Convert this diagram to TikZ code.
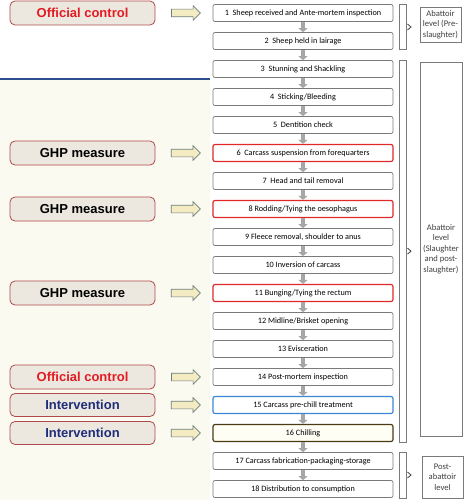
\documentclass[tikz,border=0pt]{standalone}
\usepackage{xcolor}
\usepackage{fontspec}
\setmainfont{Carlito}
\newfontfamily\labfont{Liberation Sans}
\usepackage{tikz}
\usetikzlibrary{shapes.arrows, arrows.meta, positioning, calc}

\definecolor{creambg}{HTML}{FAFAF0}
\definecolor{sepblue}{HTML}{2E4D8C}
\definecolor{labfill}{HTML}{EDE8DF}
\definecolor{labborder}{HTML}{B04A4A}
\definecolor{ocred}{HTML}{E31B23}
\definecolor{ivnavy}{HTML}{1F2D7A}
\definecolor{stepgray}{HTML}{7A7A7A}
\definecolor{hlred}{HTML}{E02828}
\definecolor{hlblue}{HTML}{3C86D6}
\definecolor{hlbrown}{HTML}{4A3B12}
\definecolor{arrowgray}{HTML}{A6A6A6}
\definecolor{yarrowfill}{HTML}{F3EBC2}
\definecolor{yarrowline}{HTML}{6E7F7F}
\definecolor{leveltext}{HTML}{404040}

\begin{document}
\begin{tikzpicture}[x=1pt, y=-1pt,
    every node/.style={font=\fontsize{8.2}{9.5}\selectfont, inner sep=0pt},
    stepbox/.style={draw=stepgray, fill=white, rounded corners=2pt, line width=0.7pt,
        minimum width=180pt, minimum height=17pt},
    ghpstep/.style={stepbox, draw=hlred, line width=1.2pt},
    prechill/.style={stepbox, draw=hlblue, line width=1.2pt},
    chillstep/.style={stepbox, draw=hlbrown, fill=white!96!yellow, line width=1.2pt},
    labbox/.style={draw=labborder, fill=labfill, rounded corners=5pt, line width=0.8pt,
        minimum width=145pt, minimum height=24pt, font=\labfont\bfseries\fontsize{13}{15}\selectfont},
    flowarrow/.style={draw=arrowgray, line width=4.5pt, -{Triangle[length=4pt, width=9pt]}},
    yarrow/.style={single arrow, draw=yarrowline, fill=yarrowfill, line width=0.7pt,
        inner xsep=0pt, inner ysep=3.5pt, minimum height=29pt, minimum width=14pt,
        single arrow head extend=3.5pt},
    bracebar/.style={draw=stepgray, fill=white, line width=0.7pt},
    levelbox/.style={draw=stepgray, fill=white, line width=0.7pt, text=leveltext,
        align=center, font=\fontsize{8.6}{10.5}\selectfont}]

    \useasboundingbox (0,0) rectangle (466,500);

    % Background of the slaughter part
    \fill[creambg] (0,80) rectangle (210,500);
    \draw[sepblue, line width=1.2pt] (0,79) -- (210,79);

    % Process steps (top to bottom)
    \foreach \i/\txt/\sty in {
        1/{1~ Sheep received and Ante-mortem inspection}/stepbox,
        2/{2~ Sheep held in lairage}/stepbox,
        3/{3~ Stunning and Shackling}/stepbox,
        4/{4~ Sticking/Bleeding}/stepbox,
        5/{5~ Dentition check}/stepbox,
        6/{6~ Carcass suspension from forequarters}/ghpstep,
        7/{7~ Head and tail removal}/stepbox,
        8/{8 Rodding/Tying the oesophagus}/ghpstep,
        9/{9 Fleece removal, shoulder to anus}/stepbox,
        10/{10 Inversion of carcass}/stepbox,
        11/{11 Bunging/Tying the rectum}/ghpstep,
        12/{12 Midline/Brisket opening}/stepbox,
        13/{13 Evisceration}/stepbox,
        14/{14 Post-mortem inspection}/stepbox,
        15/{15 Carcass pre-chill treatment}/prechill,
        16/{16 Chilling}/chillstep,
        17/{17 Carcass fabrication-packaging-storage}/stepbox,
        18/{18 Distribution to consumption}/stepbox} {
        \node[\sty] (s\i) at (303, {13+28*(\i-1)}) {\txt};
    }

    % Gray arrows between steps
    \foreach \i [evaluate=\i as \j using int(\i+1)] in {1,...,17} {
        \draw[flowarrow] (s\i.south) -- (s\j.north);
    }

    % Control / measure labels on the left
    \node[labbox, text=ocred] (oc1) at (82.5,0 |- s1) {Official control};
    \node[labbox] (ghp1) at (82.5,0 |- s6) {GHP measure};
    \node[labbox] (ghp2) at (82.5,0 |- s8) {GHP measure};
    \node[labbox] (ghp3) at (82.5,0 |- s11) {GHP measure};
    \node[labbox, text=ocred] (oc2) at (82.5,0 |- s14) {Official control};
    \node[labbox, text=ivnavy, minimum height=23pt] (iv1) at (82.5,0 |- s15) {Intervention};
    \node[labbox, text=ivnavy, minimum height=23pt] (iv2) at (82.5,0 |- s16) {Intervention};

    % Block arrows from labels to steps
    \foreach \l/\s in {oc1/s1, ghp1/s6, ghp2/s8, ghp3/s11, oc2/s14, iv1/s15, iv2/s16} {
        \path (\l.east) -- (\s.west) node[yarrow, midway] {};
    }

    % Brackets grouping the steps
    \foreach \a/\b/\n in {1/2/1, 3/16/2, 17/18/3} {
        \draw[bracebar] (399,0 |- s\a.north) rectangle (406,0 |- s\b.south);
        \coordinate (m\n) at ($(406,0 |- s\a.north)!0.5!(406,0 |- s\b.south)$);
        \draw[leveltext, line width=0.8pt] ([shift={(1.5,-3)}]m\n) -- ([shift={(5,0)}]m\n) -- ([shift={(1.5,3)}]m\n);
    }

    % Level boxes on the right
    \node[levelbox, minimum width=41pt, minimum height=35pt] (lv1) at (440.5,24.5) {Abattoir\\level (Pre-\\slaughter)};
    \node[levelbox, minimum width=42pt, minimum height=374pt] (lv2) at (441,249) {Abattoir\\level\\(Slaughter\\and post-\\slaughter)};
    \node[levelbox, minimum width=41pt, minimum height=42pt] (lv3) at (442.5,477) {Post-\\abattoir\\level};
\end{tikzpicture}
\end{document}
